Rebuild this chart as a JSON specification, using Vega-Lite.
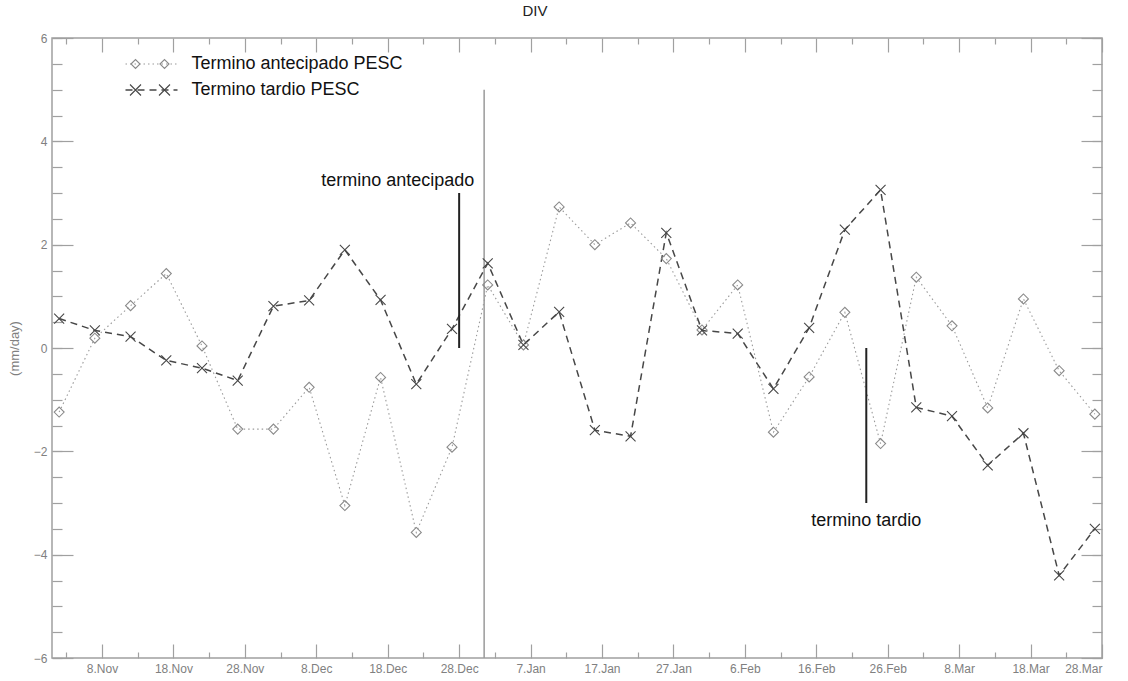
{
  "$schema": "https://vega.github.io/schema/vega-lite/v6.json",
  "width": 1050,
  "height": 620,
  "autosize": "none",
  "padding": {"left": 52, "top": 38, "right": 26, "bottom": 23},
  "background": "white",
  "title": {"text": "DIV", "fontSize": 15, "font": "Liberation Sans", "fontWeight": "normal", "color": "#222222", "anchor": "middle", "dx": -42, "offset": 13},
  "config": {
    "view": {"stroke": "#a0a0a0", "strokeWidth": 1.5},
    "axis": {"grid": false, "domain": false, "labelFont": "Liberation Sans", "labelFontSize": 12, "labelColor": "#808080", "tickColor": "#a0a0a0", "tickWidth": 1.2, "titleFont": "Liberation Sans", "titleFontWeight": "normal", "titleColor": "#808080"}
  },
  "datasets": {
    "series": [
      {"date": "2001-11-02", "series": "Termino antecipado PESC", "value": -1.24},
      {"date": "2001-11-07", "series": "Termino antecipado PESC", "value": 0.19},
      {"date": "2001-11-12", "series": "Termino antecipado PESC", "value": 0.82},
      {"date": "2001-11-17", "series": "Termino antecipado PESC", "value": 1.44},
      {"date": "2001-11-22", "series": "Termino antecipado PESC", "value": 0.04},
      {"date": "2001-11-27", "series": "Termino antecipado PESC", "value": -1.57},
      {"date": "2001-12-02", "series": "Termino antecipado PESC", "value": -1.57},
      {"date": "2001-12-07", "series": "Termino antecipado PESC", "value": -0.76},
      {"date": "2001-12-12", "series": "Termino antecipado PESC", "value": -3.05},
      {"date": "2001-12-17", "series": "Termino antecipado PESC", "value": -0.57},
      {"date": "2001-12-22", "series": "Termino antecipado PESC", "value": -3.57},
      {"date": "2001-12-27", "series": "Termino antecipado PESC", "value": -1.92},
      {"date": "2002-01-01", "series": "Termino antecipado PESC", "value": 1.22},
      {"date": "2002-01-06", "series": "Termino antecipado PESC", "value": 0.06},
      {"date": "2002-01-11", "series": "Termino antecipado PESC", "value": 2.73},
      {"date": "2002-01-16", "series": "Termino antecipado PESC", "value": 2.0},
      {"date": "2002-01-21", "series": "Termino antecipado PESC", "value": 2.42},
      {"date": "2002-01-26", "series": "Termino antecipado PESC", "value": 1.73},
      {"date": "2002-01-31", "series": "Termino antecipado PESC", "value": 0.35},
      {"date": "2002-02-05", "series": "Termino antecipado PESC", "value": 1.22},
      {"date": "2002-02-10", "series": "Termino antecipado PESC", "value": -1.63},
      {"date": "2002-02-15", "series": "Termino antecipado PESC", "value": -0.56},
      {"date": "2002-02-20", "series": "Termino antecipado PESC", "value": 0.69},
      {"date": "2002-02-25", "series": "Termino antecipado PESC", "value": -1.85},
      {"date": "2002-03-02", "series": "Termino antecipado PESC", "value": 1.37},
      {"date": "2002-03-07", "series": "Termino antecipado PESC", "value": 0.43},
      {"date": "2002-03-12", "series": "Termino antecipado PESC", "value": -1.16},
      {"date": "2002-03-17", "series": "Termino antecipado PESC", "value": 0.95},
      {"date": "2002-03-22", "series": "Termino antecipado PESC", "value": -0.44},
      {"date": "2002-03-27", "series": "Termino antecipado PESC", "value": -1.28},
      {"date": "2001-11-02", "series": "Termino tardio PESC", "value": 0.57},
      {"date": "2001-11-07", "series": "Termino tardio PESC", "value": 0.34},
      {"date": "2001-11-12", "series": "Termino tardio PESC", "value": 0.22},
      {"date": "2001-11-17", "series": "Termino tardio PESC", "value": -0.24},
      {"date": "2001-11-22", "series": "Termino tardio PESC", "value": -0.39},
      {"date": "2001-11-27", "series": "Termino tardio PESC", "value": -0.63},
      {"date": "2001-12-02", "series": "Termino tardio PESC", "value": 0.81},
      {"date": "2001-12-07", "series": "Termino tardio PESC", "value": 0.92},
      {"date": "2001-12-12", "series": "Termino tardio PESC", "value": 1.9},
      {"date": "2001-12-17", "series": "Termino tardio PESC", "value": 0.93},
      {"date": "2001-12-22", "series": "Termino tardio PESC", "value": -0.7},
      {"date": "2001-12-27", "series": "Termino tardio PESC", "value": 0.37},
      {"date": "2002-01-01", "series": "Termino tardio PESC", "value": 1.64},
      {"date": "2002-01-06", "series": "Termino tardio PESC", "value": 0.06},
      {"date": "2002-01-11", "series": "Termino tardio PESC", "value": 0.7},
      {"date": "2002-01-16", "series": "Termino tardio PESC", "value": -1.59},
      {"date": "2002-01-21", "series": "Termino tardio PESC", "value": -1.71},
      {"date": "2002-01-26", "series": "Termino tardio PESC", "value": 2.23},
      {"date": "2002-01-31", "series": "Termino tardio PESC", "value": 0.34},
      {"date": "2002-02-05", "series": "Termino tardio PESC", "value": 0.28},
      {"date": "2002-02-10", "series": "Termino tardio PESC", "value": -0.79},
      {"date": "2002-02-15", "series": "Termino tardio PESC", "value": 0.39},
      {"date": "2002-02-20", "series": "Termino tardio PESC", "value": 2.29},
      {"date": "2002-02-25", "series": "Termino tardio PESC", "value": 3.06},
      {"date": "2002-03-02", "series": "Termino tardio PESC", "value": -1.15},
      {"date": "2002-03-07", "series": "Termino tardio PESC", "value": -1.32},
      {"date": "2002-03-12", "series": "Termino tardio PESC", "value": -2.27},
      {"date": "2002-03-17", "series": "Termino tardio PESC", "value": -1.65},
      {"date": "2002-03-22", "series": "Termino tardio PESC", "value": -4.4},
      {"date": "2002-03-27", "series": "Termino tardio PESC", "value": -3.5}
    ],
    "divider": [
      {"date": "2001-12-31T12:00:00Z", "low": -6, "high": 5}
    ],
    "markers": [
      {"date": "2001-12-28", "low": 0, "high": 3},
      {"date": "2002-02-23", "low": 0, "high": -3}
    ],
    "notes": [
      {"date": "2001-12-19T10:00:00Z", "value": 3.14, "label": "termino antecipado"},
      {"date": "2002-02-23", "value": -3.44, "label": "termino tardio"}
    ]
  },
  "layer": [
    {
      "mark": {"type": "rule", "color": "#999999", "strokeDash": [2, 3], "strokeWidth": 1},
      "encoding": {
        "y": {"datum": 0, "type": "quantitative", "scale": {"domain": [-6, 6], "nice": false, "zero": false},
          "axis": {"orient": "left", "values": [-6, -4, -2, 0, 2, 4, 6], "tickSize": -21, "labelPadding": 26, "title": "(mm/day)", "titleFontSize": 13, "titlePadding": 12}}
      }
    },
    {
      "data": {"name": "divider"},
      "mark": {"type": "rule", "color": "#9a9a9a", "strokeWidth": 1.5},
      "encoding": {
        "x": {"field": "date", "type": "temporal",
          "scale": {"type": "utc", "domain": [{"year": 2001, "month": 11, "date": 1, "utc": true}, {"year": 2002, "month": 3, "date": 28, "utc": true}]},
          "axis": {"orient": "bottom", "title": null, "tickSize": -14, "labelPadding": 19, "labelExpr": "utcFormat(datum.value, '%-d.%b')",
            "values": [
              {"year": 2001, "month": 11, "date": 8, "utc": true}, {"year": 2001, "month": 11, "date": 18, "utc": true}, {"year": 2001, "month": 11, "date": 28, "utc": true},
              {"year": 2001, "month": 12, "date": 8, "utc": true}, {"year": 2001, "month": 12, "date": 18, "utc": true}, {"year": 2001, "month": 12, "date": 28, "utc": true},
              {"year": 2002, "month": 1, "date": 7, "utc": true}, {"year": 2002, "month": 1, "date": 17, "utc": true}, {"year": 2002, "month": 1, "date": 27, "utc": true},
              {"year": 2002, "month": 2, "date": 6, "utc": true}, {"year": 2002, "month": 2, "date": 16, "utc": true}, {"year": 2002, "month": 2, "date": 26, "utc": true},
              {"year": 2002, "month": 3, "date": 8, "utc": true}, {"year": 2002, "month": 3, "date": 18, "utc": true}, {"year": 2002, "month": 3, "date": 28, "utc": true}
            ]}},
        "y": {"field": "low", "type": "quantitative", "scale": {"domain": [-6, 6], "nice": false, "zero": false},
          "axis": {"orient": "left", "title": null, "labels": false, "tickSize": -10,
            "values": [-6, -5.5, -5, -4.5, -4, -3.5, -3, -2.5, -2, -1.5, -1, -0.5, 0, 0.5, 1, 1.5, 2, 2.5, 3, 3.5, 4, 4.5, 5, 5.5, 6]}},
        "y2": {"field": "high"}
      }
    },
    {
      "data": {"name": "series"},
      "mark": {"type": "line"},
      "encoding": {
        "x": {"field": "date", "type": "temporal",
          "scale": {"type": "utc", "domain": [{"year": 2001, "month": 11, "date": 1, "utc": true}, {"year": 2002, "month": 3, "date": 28, "utc": true}]},
          "axis": {"orient": "top", "title": null, "labels": false, "tickSize": -14,
            "values": [
              {"year": 2001, "month": 11, "date": 8, "utc": true}, {"year": 2001, "month": 11, "date": 18, "utc": true}, {"year": 2001, "month": 11, "date": 28, "utc": true},
              {"year": 2001, "month": 12, "date": 8, "utc": true}, {"year": 2001, "month": 12, "date": 18, "utc": true}, {"year": 2001, "month": 12, "date": 28, "utc": true},
              {"year": 2002, "month": 1, "date": 7, "utc": true}, {"year": 2002, "month": 1, "date": 17, "utc": true}, {"year": 2002, "month": 1, "date": 27, "utc": true},
              {"year": 2002, "month": 2, "date": 6, "utc": true}, {"year": 2002, "month": 2, "date": 16, "utc": true}, {"year": 2002, "month": 2, "date": 26, "utc": true},
              {"year": 2002, "month": 3, "date": 8, "utc": true}, {"year": 2002, "month": 3, "date": 18, "utc": true}, {"year": 2002, "month": 3, "date": 28, "utc": true}
            ]}},
        "y": {"field": "value", "type": "quantitative", "scale": {"domain": [-6, 6], "nice": false, "zero": false},
          "axis": {"orient": "right", "title": null, "labels": false, "tickSize": -21, "values": [-6, -4, -2, 0, 2, 4, 6]}},
        "stroke": {"field": "series", "type": "nominal",
          "scale": {"domain": ["Termino antecipado PESC", "Termino tardio PESC"], "range": ["#9a9a9a", "#474747"]},
          "legend": {"title": null, "orient": "none", "legendX": 90.5, "legendY": 17, "padding": 0, "rowPadding": 8,
            "symbolType": "M-5.2,0L5.2,0", "symbolSize": 100, "symbolStrokeWidth": 1.3,
            "labelFont": "Liberation Sans", "labelFontSize": 18, "labelColor": "#111111", "labelOffset": 31, "labelLimit": 500}},
        "strokeDash": {"field": "series", "type": "nominal",
          "scale": {"domain": ["Termino antecipado PESC", "Termino tardio PESC"], "range": [[1.5, 3], [7, 5]]},
          "legend": {"title": null, "orient": "none", "legendX": 90.5, "legendY": 17, "padding": 0, "rowPadding": 8,
            "symbolType": "M-5.2,0L5.2,0", "symbolSize": 100, "symbolStrokeWidth": 1.3,
            "labelFont": "Liberation Sans", "labelFontSize": 18, "labelColor": "#111111", "labelOffset": 31, "labelLimit": 500}},
        "strokeWidth": {"field": "series", "type": "nominal",
          "scale": {"domain": ["Termino antecipado PESC", "Termino tardio PESC"], "range": [1.1, 1.5]}, "legend": null}
      }
    },
    {
      "data": {"name": "series"},
      "mark": {"type": "point", "filled": false, "size": 100, "strokeWidth": 1.1, "opacity": 1},
      "encoding": {
        "x": {"field": "date", "type": "temporal",
          "scale": {"type": "utc", "domain": [{"year": 2001, "month": 11, "date": 1, "utc": true}, {"year": 2002, "month": 3, "date": 28, "utc": true}]},
          "axis": {"orient": "top", "title": null, "labels": false, "tickSize": -6,
            "values": [
              {"year": 2001, "month": 11, "date": 3, "utc": true}, {"year": 2001, "month": 11, "date": 13, "utc": true}, {"year": 2001, "month": 11, "date": 23, "utc": true},
              {"year": 2001, "month": 12, "date": 3, "utc": true}, {"year": 2001, "month": 12, "date": 13, "utc": true}, {"year": 2001, "month": 12, "date": 23, "utc": true},
              {"year": 2002, "month": 1, "date": 2, "utc": true}, {"year": 2002, "month": 1, "date": 12, "utc": true}, {"year": 2002, "month": 1, "date": 22, "utc": true},
              {"year": 2002, "month": 2, "date": 1, "utc": true}, {"year": 2002, "month": 2, "date": 11, "utc": true}, {"year": 2002, "month": 2, "date": 21, "utc": true},
              {"year": 2002, "month": 3, "date": 3, "utc": true}, {"year": 2002, "month": 3, "date": 13, "utc": true}, {"year": 2002, "month": 3, "date": 23, "utc": true}
            ]}},
        "y": {"field": "value", "type": "quantitative", "scale": {"domain": [-6, 6], "nice": false, "zero": false},
          "axis": {"orient": "right", "title": null, "labels": false, "tickSize": -10,
            "values": [-6, -5.5, -5, -4.5, -4, -3.5, -3, -2.5, -2, -1.5, -1, -0.5, 0, 0.5, 1, 1.5, 2, 2.5, 3, 3.5, 4, 4.5, 5, 5.5, 6]}},
        "shape": {"field": "series", "type": "nominal",
          "scale": {"domain": ["Termino antecipado PESC", "Termino tardio PESC"], "range": ["diamond", "M-1,-1L1,1M-1,1L1,-1"]}, "legend": null},
        "color": {"field": "series", "type": "nominal",
          "scale": {"domain": ["Termino antecipado PESC", "Termino tardio PESC"], "range": ["#8a8a8a", "#474747"]}, "legend": null}
      }
    },
    {
      "data": {"name": "series"},
      "transform": [{"calculate": "datum.series", "as": "marker"}],
      "mark": {"type": "point", "filled": false, "size": 100, "strokeWidth": 1.1, "opacity": 0},
      "encoding": {
        "x": {"field": "date", "type": "temporal",
          "scale": {"type": "utc", "domain": [{"year": 2001, "month": 11, "date": 1, "utc": true}, {"year": 2002, "month": 3, "date": 28, "utc": true}]}, "axis": null},
        "y": {"field": "value", "type": "quantitative", "scale": {"domain": [-6, 6], "nice": false, "zero": false}, "axis": null},
        "shape": {"field": "marker", "type": "nominal",
          "scale": {"range": ["M-4.1,0L-3.2,-0.9L-2.3,0L-3.2,0.9ZM1.7,0L2.6,-0.9L3.5,0L2.6,0.9Z", "M-4.3,-1.1L-2.1,1.1M-4.3,1.1L-2.1,-1.1M1.5,-1.1L3.7,1.1M1.5,1.1L3.7,-1.1"]},
          "legend": {"title": null, "orient": "none", "legendX": 90.5, "legendY": 17, "padding": 0, "rowPadding": 8,
            "symbolSize": 100, "symbolStrokeWidth": 1.1, "symbolFillColor": "transparent", "symbolOpacity": 1,
            "labelFont": "Liberation Sans", "labelFontSize": 18, "labelColor": "#111111", "labelOpacity": 0, "labelOffset": 31, "labelLimit": 500}},
        "color": {"field": "marker", "type": "nominal",
          "scale": {"range": ["#8a8a8a", "#474747"]},
          "legend": {"title": null, "orient": "none", "legendX": 90.5, "legendY": 17, "padding": 0, "rowPadding": 8,
            "symbolSize": 100, "symbolStrokeWidth": 1.1, "symbolFillColor": "transparent", "symbolOpacity": 1,
            "labelFont": "Liberation Sans", "labelFontSize": 18, "labelColor": "#111111", "labelOpacity": 0, "labelOffset": 31, "labelLimit": 500}}
      }
    },
    {
      "data": {"name": "markers"},
      "mark": {"type": "rule", "color": "#222222", "strokeWidth": 2},
      "encoding": {
        "x": {"field": "date", "type": "temporal",
          "scale": {"type": "utc", "domain": [{"year": 2001, "month": 11, "date": 1, "utc": true}, {"year": 2002, "month": 3, "date": 28, "utc": true}]},
          "axis": {"orient": "bottom", "title": null, "labels": false, "tickSize": -6,
            "values": [
              {"year": 2001, "month": 11, "date": 3, "utc": true}, {"year": 2001, "month": 11, "date": 13, "utc": true}, {"year": 2001, "month": 11, "date": 23, "utc": true},
              {"year": 2001, "month": 12, "date": 3, "utc": true}, {"year": 2001, "month": 12, "date": 13, "utc": true}, {"year": 2001, "month": 12, "date": 23, "utc": true},
              {"year": 2002, "month": 1, "date": 2, "utc": true}, {"year": 2002, "month": 1, "date": 12, "utc": true}, {"year": 2002, "month": 1, "date": 22, "utc": true},
              {"year": 2002, "month": 2, "date": 1, "utc": true}, {"year": 2002, "month": 2, "date": 11, "utc": true}, {"year": 2002, "month": 2, "date": 21, "utc": true},
              {"year": 2002, "month": 3, "date": 3, "utc": true}, {"year": 2002, "month": 3, "date": 13, "utc": true}, {"year": 2002, "month": 3, "date": 23, "utc": true}
            ]}},
        "y": {"field": "low", "type": "quantitative", "scale": {"domain": [-6, 6], "nice": false, "zero": false}, "axis": null},
        "y2": {"field": "high"}
      }
    },
    {
      "data": {"name": "notes"},
      "mark": {"type": "text", "align": "center", "baseline": "alphabetic", "font": "Liberation Sans", "fontSize": 18, "color": "#111111"},
      "encoding": {
        "x": {"field": "date", "type": "temporal",
          "scale": {"type": "utc", "domain": [{"year": 2001, "month": 11, "date": 1, "utc": true}, {"year": 2002, "month": 3, "date": 28, "utc": true}]}, "axis": null},
        "y": {"field": "value", "type": "quantitative", "scale": {"domain": [-6, 6], "nice": false, "zero": false}, "axis": null},
        "text": {"field": "label"}
      }
    }
  ],
  "resolve": {"axis": {"x": "independent", "y": "independent"}, "scale": {"shape": "independent", "color": "independent"}}
}
